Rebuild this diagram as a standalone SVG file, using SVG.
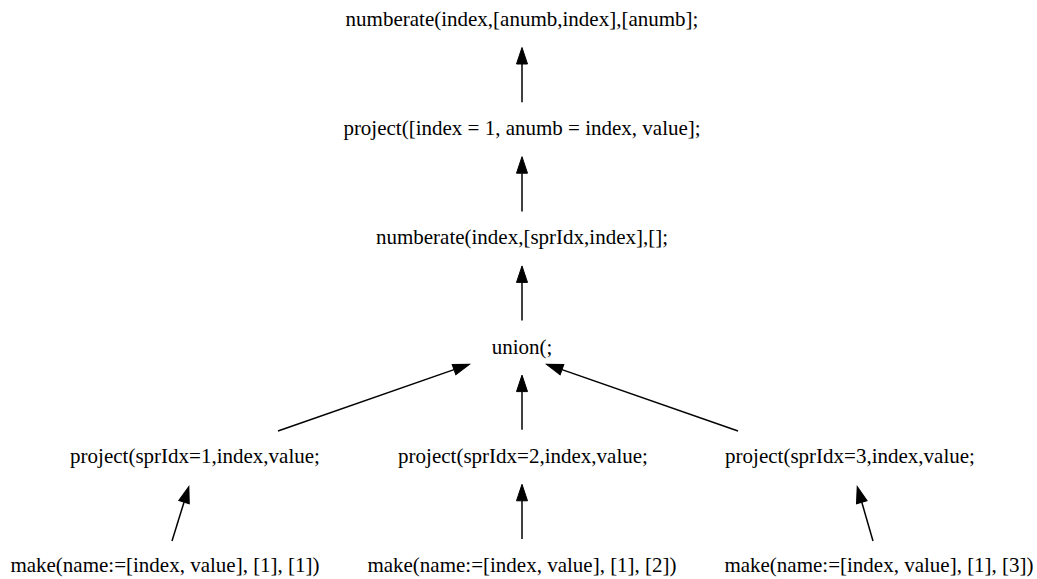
<svg xmlns="http://www.w3.org/2000/svg" width="1037" height="579" viewBox="0 0 1037 579">
  <style>
    .lbl { font-family: "Liberation Serif", "Times New Roman", serif; font-size: 21px; fill: #000; text-anchor: middle; }
    .edge { stroke: #000; stroke-width: 1.5; fill: none; marker-end: url(#head); }
  </style>
  <defs>
    <!-- filled triangular arrowhead; path starts at the arrowhead base -->
    <marker id="head" markerUnits="userSpaceOnUse" markerWidth="20" markerHeight="14" refX="0" refY="6" orient="auto" overflow="visible">
      <path d="M0,0.5 L16.5,6 L0,11.5 Z" fill="#000" stroke="#000" stroke-width="1"/>
    </marker>
  </defs>

  <g id="n_numberate_top"><text class="lbl" x="522" y="26">numberate(index,[anumb,index],[anumb];</text></g>
  <g id="n_project_top"><text class="lbl" x="522" y="135.2">project([index = 1, anumb = index, value];</text></g>
  <g id="n_numberate_spr"><text class="lbl" x="522" y="244.4">numberate(index,[sprIdx,index],[];</text></g>
  <g id="n_union"><text class="lbl" x="522" y="353.6">union(;</text></g>
  <g id="n_project1"><text class="lbl" x="195" y="462.8">project(sprIdx=1,index,value;</text></g>
  <g id="n_project2"><text class="lbl" x="523" y="462.8">project(sprIdx=2,index,value;</text></g>
  <g id="n_project3"><text class="lbl" x="850" y="462.8">project(sprIdx=3,index,value;</text></g>
  <g id="n_make1"><text class="lbl" x="165" y="572">make(name:=[index, value], [1], [1])</text></g>
  <g id="n_make2"><text class="lbl" x="522" y="572">make(name:=[index, value], [1], [2])</text></g>
  <g id="n_make3"><text class="lbl" x="879" y="572">make(name:=[index, value], [1], [3])</text></g>

  <g id="edges">
    <path class="edge" d="M522,102.2 L522,64"/>
    <path class="edge" d="M522,211.4 L522,173.2"/>
    <path class="edge" d="M522,320.6 L522,282.4"/>
    <path class="edge" d="M522,429.8 L522,391.6"/>
    <path class="edge" d="M522,539 L522,500.8"/>
    <path class="edge" d="M278,431 L454,369.6"/>
    <path class="edge" d="M738,431 L562,369.6"/>
    <path class="edge" d="M172,541 L184,502.2"/>
    <path class="edge" d="M873,541 L861.8,502.3"/>
  </g>
</svg>
